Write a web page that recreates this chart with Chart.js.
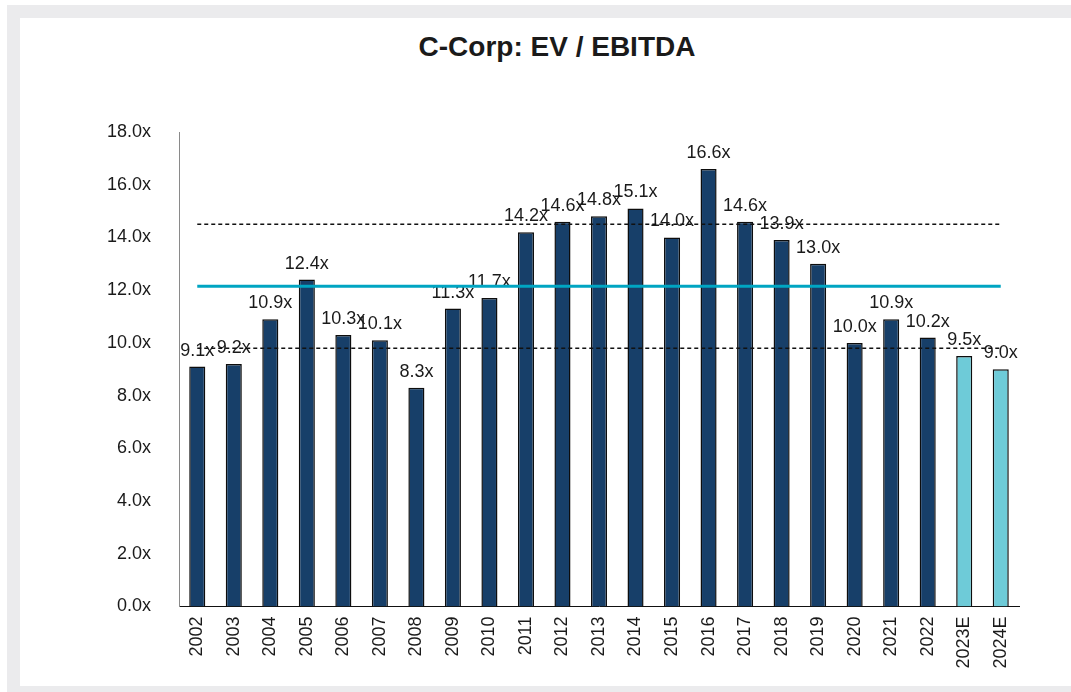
<!DOCTYPE html>
<html>
<head>
<meta charset="utf-8">
<script src="https://cdn.jsdelivr.net/npm/chart.js@4.4.1/dist/chart.umd.min.js"></script>
<style>
  html, body { margin: 0; padding: 0; background: #ffffff; width: 1071px; height: 692px; overflow: hidden; }
  #frame { position: absolute; left: 7px; top: 5px; width: 1100px; height: 668px;
           border-top: 13px solid #ebebed; border-left: 13px solid #ebebed; border-bottom: 6px solid #ebebed;
           background: #ffffff; }
  #title { position: absolute; left: 0; width: 1114px; top: 31px; text-align: center;
           font-family: "Liberation Sans", Arial, sans-serif; font-weight: bold; font-size: 28px; color: #1a1a1a; }
  #wrap { position: absolute; left: 0; top: 0; width: 1071px; height: 692px; }
</style>
</head>
<body>
<div id="frame"></div>
<div id="title">C-Corp: EV / EBITDA</div>
<div id="wrap"><canvas id="c" width="1071" height="692"></canvas></div>
<script>
const categories = ["2002","2003","2004","2005","2006","2007","2008","2009","2010","2011","2012","2013","2014","2015","2016","2017","2018","2019","2020","2021","2022","2023E","2024E"];
const evEbitda = [9.1, 9.2, 10.9, 12.4, 10.3, 10.1, 8.3, 11.3, 11.7, 14.2, 14.6, 14.8, 15.1, 14.0, 16.6, 14.6, 13.9, 13.0, 10.0, 10.9, 10.2, 9.5, 9.0];
const isEstimate = [false,false,false,false,false,false,false,false,false,false,false,false,false,false,false,false,false,false,false,false,false,true,true];
const averageValue = 12.15;
const upperBandValue = 14.5;
const lowerBandValue = 9.8;
const yTickMin = 0, yTickMax = 18, yTickStep = 2;

const averageLine = categories.map(() => averageValue);
const upperLine = categories.map(() => upperBandValue);
const lowerLine = categories.map(() => lowerBandValue);

const FONT = '"Liberation Sans", Arial, sans-serif';

const labelPlugin = {
  id: 'barLabels',
  afterDatasetDraw(chart, args) {
    if (args.index !== 0) return;
    const ctx = chart.ctx;
    const meta = chart.getDatasetMeta(0);
    ctx.save();
    ctx.font = '18px ' + FONT;
    ctx.fillStyle = '#1a1a1a';
    ctx.textAlign = 'center';
    ctx.textBaseline = 'middle';
    meta.data.forEach((bar, i) => {
      ctx.fillText(evEbitda[i].toFixed(1) + 'x', bar.x, bar.y - 16);
    });
    ctx.restore();
  }
};

new Chart(document.getElementById('c'), {
  data: {
    labels: categories,
    datasets: [
      {
        type: 'bar',
        data: evEbitda,
        backgroundColor: isEstimate.map(e => e ? '#6ecbd8' : '#173f69'),
        borderColor: '#0d0d0d',
        borderWidth: 1.5,
        barPercentage: 0.44,
        categoryPercentage: 1.0,
        order: 3
      },
      {
        type: 'line',
        data: averageLine,
        borderColor: '#00a5c2',
        borderWidth: 3,
        pointRadius: 0,
        fill: false,
        order: 1
      },
      {
        type: 'line',
        data: upperLine,
        borderColor: '#111111',
        borderWidth: 1.5,
        borderDash: [4, 3],
        pointRadius: 0,
        fill: false,
        order: 2
      },
      {
        type: 'line',
        data: lowerLine,
        borderColor: '#111111',
        borderWidth: 1.5,
        borderDash: [4, 3],
        pointRadius: 0,
        fill: false,
        order: 2
      }
    ]
  },
  options: {
    responsive: false,
    animation: false,
    layout: { padding: { left: 0, right: 52, top: 132, bottom: 0 } },
    plugins: { legend: { display: false }, tooltip: { enabled: false }, title: { display: false } },
    scales: {
      x: {
        grid: { display: false, drawTicks: false },
        border: { display: true, color: '#111111', width: 1 },
        ticks: { font: { family: FONT, size: 18 }, color: '#1a1a1a', maxRotation: 90, minRotation: 90, padding: 10, autoSkip: false },
        afterFit(scale) { scale.height = 85.5; }
      },
      y: {
        min: yTickMin, max: yTickMax,
        grid: { display: false, drawTicks: false },
        border: { display: true, color: '#8a8a8a', width: 1 },
        ticks: {
          stepSize: yTickStep,
          font: { family: FONT, size: 18 }, color: '#1a1a1a', padding: 28,
          callback: v => v.toFixed(1) + 'x'
        },
        afterFit(scale) { scale.width = 179; }
      }
    }
  },
  plugins: [labelPlugin]
});
</script>
</body>
</html>
